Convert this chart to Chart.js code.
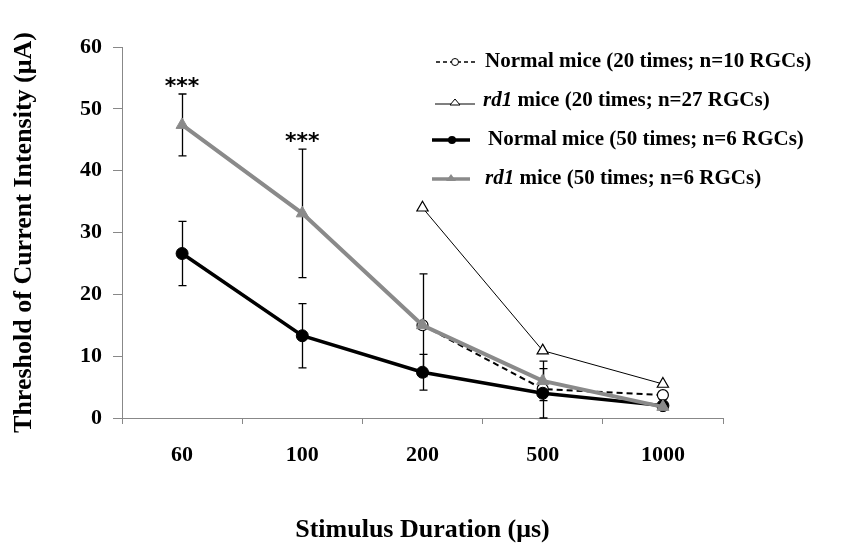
<!DOCTYPE html>
<html>
<head>
<meta charset="utf-8">
<script src="https://cdn.jsdelivr.net/npm/chart.js@4/dist/chart.umd.min.js"></script>
<style>
  html, body { margin: 0; padding: 0; background: #fff; }
  #wrap { width: 867px; height: 554px; }
</style>
</head>
<body>
<div id="wrap"><canvas id="c" width="867" height="554"></canvas></div>
<script>
// ---- data ----
const durations = ['60', '100', '200', '500', '1000'];
const normal20 = [null, null, 15, 4.7, 3.7];
const rd1_20 = [null, null, 34, 10.9, 5.5];
const normal50 = [26.6, 13.3, 7.4, 4.0, 2.0];
const rd1_50 = [47.4, 33.1, 15.0, 6.0, 1.8];
const normal50Err = [5.2, 5.2, 2.9, 4.0, 0];
const rd1_50Err = [5.0, 10.4, 8.3, 3.2, 0];
const sigMarks = ['***', '***', '', '', ''];
const yTicks = [0, 10, 20, 30, 40, 50, 60];
const legendLabels = [
  [{t: 'Normal mice (20 times; n=10 RGCs)', i: false}],
  [{t: 'rd1', i: true}, {t: ' mice (20 times; n=27 RGCs)', i: false}],
  [{t: 'Normal mice (50 times; n=6 RGCs)', i: false}],
  [{t: 'rd1', i: true}, {t: ' mice (50 times; n=6 RGCs)', i: false}]
];

const SERIF = '"Liberation Serif", "Times New Roman", serif';
const GRAY = '#8a8a8a';

const errorBars = {
  id: 'errorBars',
  beforeDatasetsDraw(chart) {
    const ctx = chart.ctx, xs = chart.scales.x, ys = chart.scales.y;
    ctx.save();
    ctx.strokeStyle = '#000';
    ctx.lineWidth = 1.3;
    const drawBars = (vals, errs) => {
      vals.forEach((v, i) => {
        const e = errs[i];
        if (v == null || !e) return;
        const x = Math.round(xs.getPixelForValue(i)) + 0.5;
        const yt = ys.getPixelForValue(v + e);
        const yb = ys.getPixelForValue(Math.max(0, v - e));
        ctx.beginPath();
        ctx.moveTo(x, yt); ctx.lineTo(x, yb);
        ctx.moveTo(x - 4, yt); ctx.lineTo(x + 4, yt);
        ctx.moveTo(x - 4, yb); ctx.lineTo(x + 4, yb);
        ctx.stroke();
      });
    };
    drawBars(normal50, normal50Err);
    drawBars(rd1_50, rd1_50Err);
    ctx.restore();
  },
  afterDatasetsDraw(chart) {
    const ctx = chart.ctx, xs = chart.scales.x, ys = chart.scales.y;
    ctx.save();
    ctx.fillStyle = '#000';
    ctx.font = 'bold 22px "DejaVu Sans", sans-serif';
    ctx.textAlign = 'center';
    ctx.textBaseline = 'middle';
    sigMarks.forEach((m, i) => {
      if (!m) return;
      const x = xs.getPixelForValue(i);
      const y = ys.getPixelForValue(rd1_50[i] + rd1_50Err[i]) - 7;
      ctx.fillText(m, x, y);
    });
    ctx.restore();
  }
};

const customLegend = {
  id: 'customLegend',
  afterDraw(chart) {
    const ctx = chart.ctx;
    ctx.save();
    const rows = [62, 101, 140, 179];
    const textX = [485, 483, 488, 485];
    // row 1: dashed + open circle
    ctx.strokeStyle = '#000'; ctx.lineWidth = 1.5; ctx.setLineDash([4, 3]);
    ctx.beginPath(); ctx.moveTo(436, rows[0]); ctx.lineTo(475, rows[0]); ctx.stroke();
    ctx.setLineDash([]);
    ctx.fillStyle = '#fff'; ctx.lineWidth = 1;
    ctx.beginPath(); ctx.arc(455, rows[0], 3.5, 0, Math.PI * 2); ctx.fill(); ctx.stroke();
    // row 2: thin line + open triangle
    ctx.lineWidth = 1;
    ctx.beginPath(); ctx.moveTo(435, rows[1] + 3); ctx.lineTo(475, rows[1] + 3); ctx.stroke();
    ctx.beginPath(); ctx.moveTo(455, rows[1] - 2); ctx.lineTo(460, rows[1] + 4); ctx.lineTo(450, rows[1] + 4); ctx.closePath();
    ctx.fillStyle = '#fff'; ctx.fill(); ctx.stroke();
    // row 3: thick black + dot
    ctx.lineWidth = 3.5;
    ctx.beginPath(); ctx.moveTo(432, rows[2]); ctx.lineTo(470, rows[2]); ctx.stroke();
    ctx.fillStyle = '#000';
    ctx.beginPath(); ctx.arc(452, rows[2], 4, 0, Math.PI * 2); ctx.fill();
    // row 4: thick gray + triangle
    ctx.strokeStyle = GRAY; ctx.fillStyle = GRAY; ctx.lineWidth = 3.5;
    ctx.beginPath(); ctx.moveTo(432, rows[3]); ctx.lineTo(470, rows[3]); ctx.stroke();
    ctx.beginPath(); ctx.moveTo(451, rows[3] - 5); ctx.lineTo(456, rows[3] + 2); ctx.lineTo(446, rows[3] + 2); ctx.closePath(); ctx.fill();
    // text
    ctx.fillStyle = '#000';
    ctx.textBaseline = 'middle';
    ctx.textAlign = 'left';
    legendLabels.forEach((parts, r) => {
      let x = textX[r];
      parts.forEach(p => {
        ctx.font = (p.i ? 'italic bold ' : 'bold ') + '21px ' + SERIF;
        ctx.fillText(p.t, x, rows[r]);
        x += ctx.measureText(p.t).width;
      });
    });
    ctx.restore();
  }
};

new Chart(document.getElementById('c'), {
  type: 'line',
  data: {
    labels: durations,
    datasets: [
      {
        label: 'Normal mice (20 times; n=10 RGCs)',
        data: normal20, order: 2,
        borderColor: '#000', borderWidth: 2, borderDash: [6, 4],
        pointStyle: 'circle', pointRadius: 5.5, pointBackgroundColor: '#fff',
        pointBorderColor: '#000', pointBorderWidth: 1.2, tension: 0, spanGaps: false
      },
      {
        label: 'rd1 mice (20 times; n=27 RGCs)',
        data: rd1_20, order: 3,
        borderColor: '#000', borderWidth: 1,
        pointStyle: 'triangle', pointRadius: 6.5, pointBackgroundColor: '#fff',
        pointBorderColor: '#000', pointBorderWidth: 1.2, tension: 0, spanGaps: false
      },
      {
        label: 'Normal mice (50 times; n=6 RGCs)',
        data: normal50, order: 1,
        borderColor: '#000', borderWidth: 3.5,
        pointStyle: 'circle', pointRadius: 6, pointBackgroundColor: '#000',
        pointBorderColor: '#000', pointBorderWidth: 1, tension: 0
      },
      {
        label: 'rd1 mice (50 times; n=6 RGCs)',
        data: rd1_50, order: 0,
        borderColor: GRAY, borderWidth: 4,
        pointStyle: 'triangle', pointRadius: 7, pointBackgroundColor: GRAY,
        pointBorderColor: GRAY, pointBorderWidth: 1, tension: 0
      }
    ]
  },
  options: {
    responsive: false,
    animation: false,
    devicePixelRatio: 1,
    layout: { padding: { top: 47, right: 144, left: 0, bottom: 0 } },
    plugins: { legend: { display: false }, tooltip: { enabled: false } },
    scales: {
      x: {
        type: 'category',
        offset: true,
        grid: { display: true, drawOnChartArea: false, offset: true, tickLength: 6, color: '#888' },
        border: { display: true, color: '#888', width: 1 },
        ticks: { color: '#000', padding: 18, font: { family: SERIF, size: 22, weight: 'bold' } },
        title: { display: true, text: 'Stimulus Duration (μs)', color: '#000',
                 padding: { top: 0, bottom: 8 }, font: { family: SERIF, size: 26, weight: 'bold' } },
        afterFit(scale) { scale.height = 136; }
      },
      y: {
        min: 0, max: 60,
        afterBuildTicks(scale) { scale.ticks = yTicks.map(v => ({ value: v })); },
        grid: { display: true, drawOnChartArea: false, tickLength: 9, color: '#888' },
        border: { display: true, color: '#888', width: 1 },
        ticks: { color: '#000', padding: 11, font: { family: SERIF, size: 22, weight: 'bold' } },
        title: { display: true, text: 'Threshold of Current Intensity (μA)', color: '#000',
                 padding: { top: 9, bottom: 0 }, font: { family: SERIF, size: 26, weight: 'bold' } },
        afterFit(scale) { scale.width = 122; }
      }
    }
  },
  plugins: [errorBars, customLegend]
});
</script>
</body>
</html>
